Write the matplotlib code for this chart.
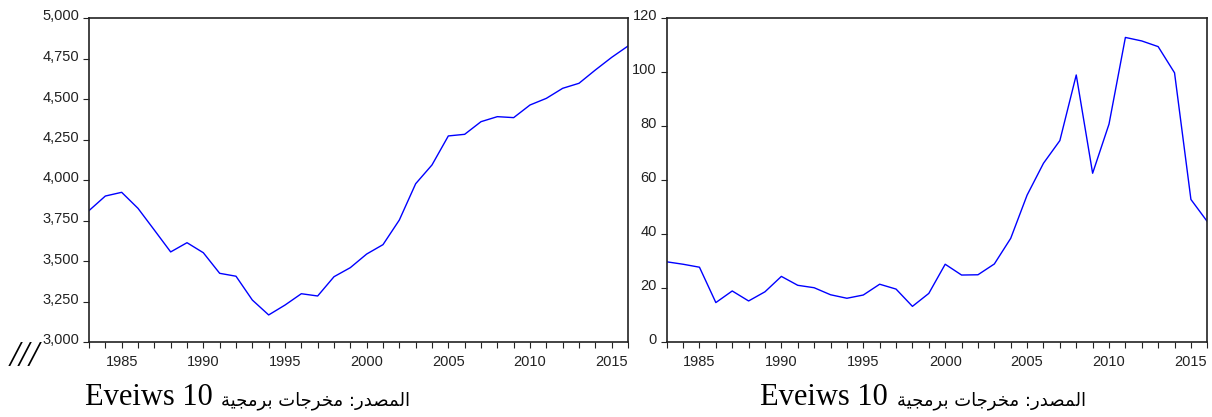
import matplotlib
matplotlib.use("Agg")
import matplotlib.pyplot as plt
from matplotlib.ticker import MultipleLocator, FuncFormatter
import matplotlib.transforms as mtransforms

years = list(range(1983, 2017))
series_left = [3811, 3901, 3924, 3825, 3691, 3556, 3613, 3551, 3424, 3406,
               3259, 3167, 3228, 3298, 3284, 3403, 3459, 3543, 3601, 3753,
               3977, 4093, 4272, 4282, 4360, 4391, 4385, 4463, 4504, 4566,
               4597, 4679, 4757, 4827]
series_right = [29.7, 28.8, 27.7, 14.6, 18.9, 15.2, 18.6, 24.3, 21.0, 20.1,
                17.5, 16.2, 17.4, 21.4, 19.6, 13.2, 18.0, 28.8, 24.8, 24.9,
                28.9, 38.4, 54.4, 66.2, 74.6, 98.9, 62.5, 80.7, 112.8, 111.5,
                109.4, 99.7, 52.8, 44.6]

# Arabic caption in visual order with presentation forms
w_masdar = "\uFEAD\uFEAA\uFEBC\uFEE4\uFEDF\uFE8D"
w_mukhrajat = "\uFE95\uFE8E\uFE9F\uFEAE\uFEA8\uFEE3"
w_barmajia = "\uFE94\uFEF4\uFEA0\uFEE3\uFEAE\uFE91"
caption_latin = "Eveiws 10"
caption_arabic = w_barmajia + " " + w_mukhrajat + " :" + w_masdar

W, H = 1212, 417
fig = plt.figure(figsize=(W / 100, H / 100), dpi=100)


def style_axes(ax, ylim, ystep, fmt):
    ax.set_xlim(1983, 2016)
    ax.set_ylim(*ylim)
    ax.xaxis.set_major_locator(MultipleLocator(5))
    ax.xaxis.set_minor_locator(MultipleLocator(1))
    ax.yaxis.set_major_locator(MultipleLocator(ystep))
    ax.yaxis.set_major_formatter(FuncFormatter(fmt))
    ax.tick_params(axis="x", which="both", direction="out", length=4, width=0.8,
                   color="#222222", labelsize=10.5, pad=5)
    ax.tick_params(axis="y", which="major", direction="out", length=4, width=0.8,
                   color="#222222", labelsize=10.5, pad=3)
    for lab in ax.get_xticklabels() + ax.get_yticklabels():
        lab.set_family("Liberation Sans")
        lab.set_color("#222222")
    for s in ax.spines.values():
        s.set_linewidth(1.2)
        s.set_color("#222222")
    offset = mtransforms.ScaledTranslation(0, 3 / 100, fig.dpi_scale_trans)
    for lab in ax.get_yticklabels():
        lab.set_transform(lab.get_transform() + offset)


ax1 = fig.add_axes([89 / W, 75 / H, 539 / W, 324 / H])
ax1.plot(years, series_left, color="#0000ff", linewidth=1.0)
style_axes(ax1, (3000, 5000), 250, lambda v, p: f"{int(v):,}")

ax2 = fig.add_axes([666.7 / W, 75 / H, 540.6 / W, 324 / H])
ax2.plot(years, series_right, color="#0000ff", linewidth=1.0)
style_axes(ax2, (0, 120), 20, lambda v, p: f"{int(v)}")

base_y = 1 - 405 / H
for x_lat, x_ar in ((85, 221), (760, 897)):
    fig.text(x_lat / W, base_y, caption_latin, ha="left", va="baseline",
             fontsize=22, family="Liberation Serif", color="black")
    fig.text(x_ar / W, base_y, caption_arabic, ha="left", va="baseline",
             fontsize=13, family=["DejaVu Sans"], color="black")

fig.text(25 / W, 1 - 358 / H, "///", ha="center", va="center",
         fontsize=26, family="Liberation Serif", style="italic", color="black")

fig.savefig("out.png", dpi=100)
